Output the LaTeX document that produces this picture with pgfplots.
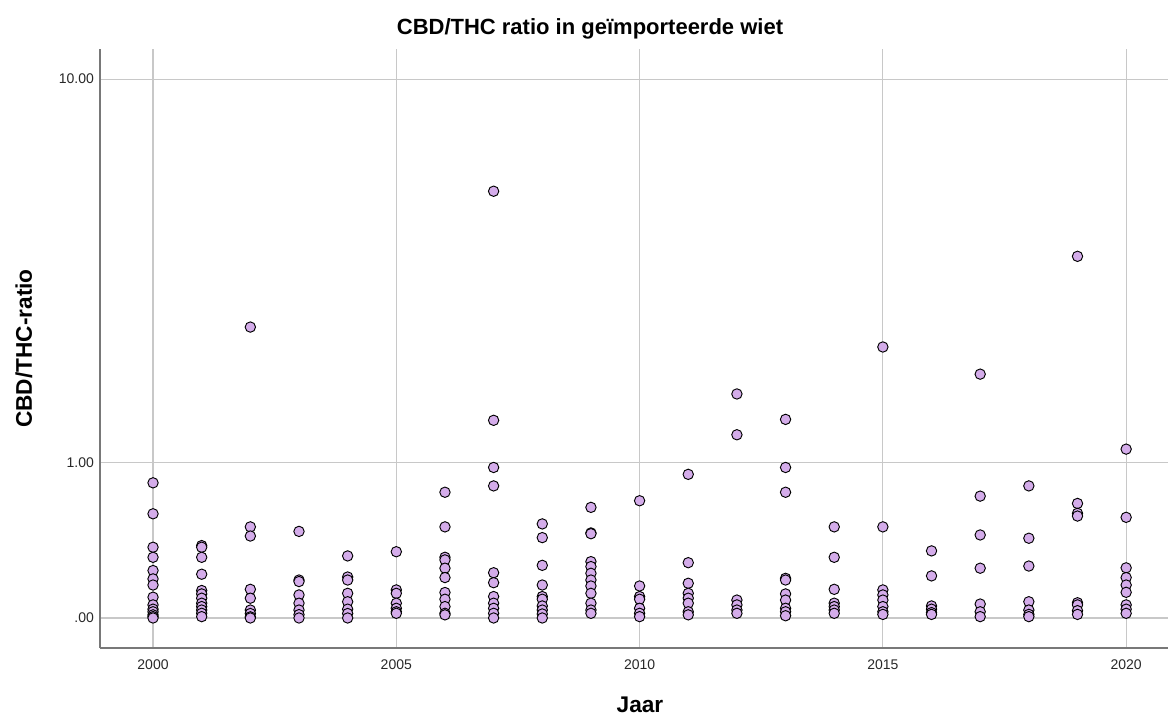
\documentclass[border=0pt]{standalone}
\usepackage{fontspec}
\setmainfont{Liberation Sans}
\usepackage{pgfplots}
\pgfplotsset{compat=1.18}
\definecolor{dotfill}{RGB}{212,172,234}
\definecolor{gridc}{RGB}{200,200,200}
\definecolor{axisc}{RGB}{120,120,120}
\definecolor{tickc}{RGB}{40,40,40}
\begin{document}
\begin{tikzpicture}
\path[use as bounding box] (-75pt,-52.5pt) rectangle (801pt,486pt);
\begin{axis}[
    at={(0,0)}, anchor=south west,
    scale only axis, width=801pt, height=449.25pt,
    xmin=1998.91, xmax=2020.86,
    ymin=-0.125, ymax=11.58,
    y coord trafo/.code={\pgfmathparse{log10(#1+1)}},
    y coord inv trafo/.code={\pgfmathparse{10^(#1)-1}},
    xtick={2000,2005,2010,2015,2020},
    xticklabels={2000,2005,2010,2015,2020},
    ytick={0,1,10},
    yticklabels={.00,1.00,10.00},
    major tick length=0pt,
    grid=major,
    major grid style={gridc, line width=0.9pt},
    axis x line*=bottom, axis y line*=left,
    axis line style={axisc, line width=0.9pt, -},
    tick label style={font=\fontsize{10.5}{12}\selectfont, tickc},
    xticklabel style={yshift=-5pt},
    yticklabel style={xshift=-1pt},
    clip=false,
]
\addplot[only marks, mark=*, mark size=3.9pt,
    mark options={fill=dotfill, draw=black, line width=0.7pt}]
coordinates {
 (2000,0.825) (2000,0.59) (2000,0.37) (2000,0.31) (2000,0.235) (2000,0.19) (2000,0.158)
 (2000,0.097) (2000,0.06) (2000,0.04) (2000,0.028) (2000,0.014) (2000,0.006) (2000,0.0)
 (2001,0.38) (2001,0.37) (2001,0.31) (2001,0.215) (2001,0.13) (2001,0.113) (2001,0.092)
 (2001,0.068) (2001,0.052) (2001,0.036) (2001,0.021) (2001,0.006)
 (2002,2.65) (2002,0.50) (2002,0.44) (2002,0.136) (2002,0.092) (2002,0.036) (2002,0.02)
 (2002,0.005) (2002,0.0)
 (2003,0.47) (2003,0.184) (2003,0.176) (2003,0.108) (2003,0.068) (2003,0.036) (2003,0.015)
 (2003,0.0)
 (2004,0.318) (2004,0.2) (2004,0.184) (2004,0.116) (2004,0.075) (2004,0.04) (2004,0.02)
 (2004,0.0)
 (2005,0.343) (2005,0.133) (2005,0.116) (2005,0.068) (2005,0.044) (2005,0.028) (2005,0.021)
 (2006,0.75) (2006,0.50) (2006,0.31) (2006,0.295) (2006,0.248) (2006,0.197) (2006,0.12)
 (2006,0.087) (2006,0.052) (2006,0.021) (2006,0.014)
 (2007,5.68) (2007,1.41) (2007,0.954) (2007,0.80) (2007,0.223) (2007,0.17) (2007,0.10)
 (2007,0.068) (2007,0.044) (2007,0.021) (2007,0.0)
 (2008,0.52) (2008,0.43) (2008,0.264) (2008,0.158) (2008,0.10) (2008,0.087) (2008,0.055)
 (2008,0.036) (2008,0.018) (2008,0.0)
 (2009,0.636) (2009,0.46) (2009,0.455) (2009,0.285) (2009,0.257) (2009,0.22) (2009,0.184)
 (2009,0.153) (2009,0.116) (2009,0.068) (2009,0.036) (2009,0.021)
 (2010,0.685) (2010,0.153) (2010,0.10) (2010,0.087) (2010,0.044) (2010,0.021) (2010,0.006)
 (2011,0.895) (2011,0.279) (2011,0.167) (2011,0.116) (2011,0.092) (2011,0.068) (2011,0.028)
 (2011,0.014)
 (2012,1.71) (2012,1.26) (2012,0.083) (2012,0.06) (2012,0.036) (2012,0.021)
 (2013,1.42) (2013,0.954) (2013,0.75) (2013,0.193) (2013,0.184) (2013,0.113) (2013,0.083)
 (2013,0.044) (2013,0.028) (2013,0.01)
 (2014,0.50) (2014,0.31) (2014,0.136) (2014,0.068) (2014,0.052) (2014,0.036) (2014,0.021)
 (2015,2.34) (2015,0.50) (2015,0.133) (2015,0.108) (2015,0.083) (2015,0.052) (2015,0.028)
 (2015,0.016)
 (2016,0.348) (2016,0.206) (2016,0.055) (2016,0.04) (2016,0.024) (2016,0.016)
 (2017,1.96) (2017,0.72) (2017,0.447) (2017,0.248) (2017,0.064) (2017,0.028) (2017,0.006)
 (2018,0.80) (2018,0.426) (2018,0.26) (2018,0.075) (2018,0.036) (2018,0.016) (2018,0.006)
 (2019,4.0) (2019,0.665) (2019,0.593) (2019,0.574) (2019,0.07) (2019,0.06) (2019,0.033)
 (2019,0.016)
 (2020,1.12) (2020,0.565) (2020,0.25) (2020,0.197) (2020,0.158) (2020,0.121) (2020,0.06)
 (2020,0.04) (2020,0.021)
};
\end{axis}
% title and axis labels, positioned from the axis corner (pt)
\node[font=\fontsize{16.5}{19}\selectfont\bfseries] at (367.5pt,464.5pt) {CBD/THC ratio in geïmporteerde wiet};
\node[font=\fontsize{17}{20}\selectfont\bfseries] at (405pt,-42.75pt) {Jaar};
\node[font=\fontsize{17}{20}\selectfont\bfseries, rotate=90] at (-57pt,224.6pt) {CBD/THC-ratio};
\end{tikzpicture}
\end{document}
